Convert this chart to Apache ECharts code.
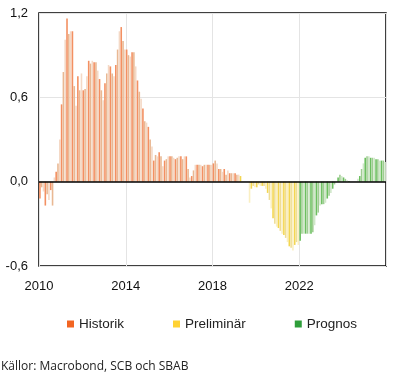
<!DOCTYPE html>
<html><head><meta charset="utf-8">
<script src="https://cdn.jsdelivr.net/npm/echarts@6/dist/echarts.min.js"></script>
<style>html,body{margin:0;padding:0;background:#fff}#c{width:400px;height:383px}</style>
</head><body><div id="c"></div>
<script>
// Monthly values, starting Jan 2010
var historikStart = 2010; // Jan 2010
var historik = [
 -0.12,-0.04,-0.07,-0.17,-0.09,-0.13,-0.06,-0.17,0.03,0.07,0.13,0.30,
 0.55,0.78,1.01,1.16,1.05,1.07,1.07,0.68,0.54,0.75,0.65,0.77,
 0.65,0.66,0.75,0.86,0.84,0.86,0.85,0.85,0.79,0.73,0.65,0.58,
 0.70,0.77,0.83,0.82,0.77,0.75,0.83,0.94,1.07,1.10,1.00,0.94,
 0.94,0.90,0.89,0.92,0.92,0.82,0.72,0.64,0.59,0.52,0.43,0.42,
 0.39,0.30,0.25,0.15,0.19,0.18,0.21,0.18,0.11,0.15,0.16,0.18,
 0.18,0.18,0.17,0.16,0.17,0.18,0.18,0.16,0.18,0.18,0.09,0.03,
 0.04,0.08,0.12,0.12,0.12,0.12,0.11,0.12,0.12,0.12,0.12,0.12,
 0.13,0.15,0.13,0.09,0.09,0.07,0.09,0.05,0.08,0.06,0.06,0.06,
 0.06,0.05,0.05
];
var preliminarStart = 2019 + 3/12; // Apr 2019
var preliminar = [
 0.04,0.00,0.00,0.00,0.00,-0.15,-0.05,-0.03,-0.04,
 -0.04,-0.02,-0.03,-0.03,-0.03,-0.05,-0.08,-0.13,-0.19,-0.26,-0.30,-0.32,
 -0.33,-0.35,-0.37,-0.38,-0.40,-0.43,-0.46,-0.47,-0.49,-0.45,-0.43,-0.45
];
var prognosStart = 2022; // Jan 2022
var prognos = [
 -0.42,-0.37,-0.37,-0.37,-0.37,-0.37,-0.37,-0.36,-0.31,-0.24,-0.22,-0.17,
 -0.16,-0.16,-0.15,-0.12,-0.10,-0.08,-0.05,-0.02,0.00,0.03,0.05,0.04,
 0.03,0.02,0.01,0.005,0.00,0.00,0.00,0.00,0.02,0.04,0.09,0.13,
 0.17,0.18,0.18,0.17,0.17,0.17,0.16,0.16,0.15,0.15,0.15,0.14
];
var seriesNames = ['Historik','Preliminär','Prognos'];
var yTicks = [-0.6, 0, 0.6, 1.2];
var xTicks = [2010, 2014, 2018, 2022, 2026];

var legendColors = ['#F26522','#FFD233','#2E9E3A'];
var barShades = [
  ['#F39062','#E9B893','#F4D9C6'],
  ['#F3D650','#EFDD95','#FAEFC2'],
  ['#6CBF5F','#9FCD92','#D0E7C9']
];

function build(vals, start, k){
  return vals.map(function(v,i){
    return {value:[start + (i+0.5)/12, v], itemStyle:{color: barShades[k][i%3]}};
  });
}
var sets = [[historik,historikStart],[preliminar,preliminarStart],[prognos,prognosStart]];
var series = sets.map(function(s,k){
  var o = {
    name: seriesNames[k], type:'bar', stack:'all', barWidth:1.6,
    itemStyle:{color: legendColors[k]},
    data: build(s[0], s[1], k), silent:true, animation:false
  };
  if(k===0){
    o.markLine = {silent:true, symbol:'none', label:{show:false},
      lineStyle:{color:'#000', width:1.5, type:'solid'}, data:[{yAxis:0}]};
  }
  return o;
});

var chart = echarts.init(document.getElementById('c'), null, {renderer:'canvas'});
chart.setOption({
  animation:false,
  textStyle:{fontFamily:'Liberation Sans, Arial, sans-serif'},
  grid:{left:39, right:14, top:13, bottom:117, show:true, borderColor:'#000', borderWidth:1.5, backgroundColor:'transparent'},
  legend:{
    data: seriesNames, left:62, top:312, itemWidth:7, itemHeight:7, itemGap:49,
    icon:'rect', textStyle:{fontSize:13.5, color:'#222', fontFamily:'Liberation Sans, Arial, sans-serif'}
  },
  xAxis:{
    type:'value', min:xTicks[0], max:xTicks[xTicks.length-1], interval:4,
    axisLine:{show:false}, axisTick:{show:false},
    splitLine:{show:true, lineStyle:{color:'#e4e4e4', width:1}},
    axisLabel:{margin:14, fontSize:13, color:'#111', showMaxLabel:false,
      formatter:function(v){ return v===2026 ? '' : String(v); }}
  },
  yAxis:{
    type:'value', min:yTicks[0], max:yTicks[yTicks.length-1], interval:0.6,
    axisLine:{show:false}, axisTick:{show:false},
    splitLine:{show:true, lineStyle:{color:'#e4e4e4', width:1}},
    axisLabel:{margin:11, fontSize:13, color:'#111',
      formatter:function(v){ return v.toFixed(1).replace('.', ','); }}
  },
  graphic:[{type:'text', left:1, top:361,
    style:{text:'Källor: Macrobond, SCB och SBAB', fontSize:12, fill:'#222', fontFamily:'Open Sans, sans-serif'}}],
  series: series
});
</script></body></html>
